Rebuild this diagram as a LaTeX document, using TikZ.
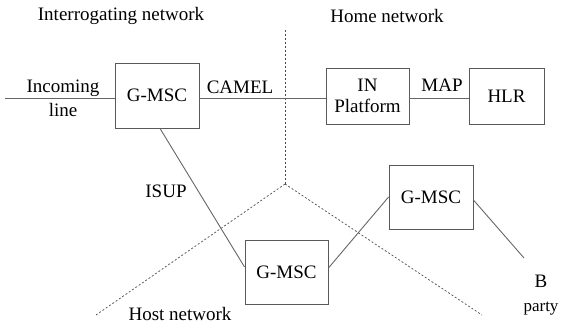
\documentclass[tikz,border=0pt]{standalone}
\usepackage{fontspec}
\setmainfont{Liberation Serif}
\begin{document}
\begin{tikzpicture}[x=1pt,y=-1pt,
  box/.style={draw=black!65,line width=0.9pt,minimum width=#1,inner sep=0pt,font=\fontsize{19}{21}\selectfont,align=center},
  lbl/.style={font=\fontsize{19}{24}\selectfont,inner sep=0pt,align=center},
  link/.style={draw=black!60,line width=0.9pt},
  border/.style={draw=black!70,line width=0.7pt,dash pattern=on 2pt off 2pt}]
\useasboundingbox (0,0) rectangle (561,325);
\node[box=84pt,minimum height=65pt] (g1) at (157,95.5) {G-MSC};
\node[box=83pt,minimum height=56pt] (inp) at (367.5,96) {IN\\Platform};
\node[box=75pt,minimum height=56pt] (hlr) at (506.5,96) {HLR};
\node[box=83pt,minimum height=64pt] (g2) at (286.5,272) {G-MSC};
\node[box=84pt,minimum height=64pt] (g3) at (431,197) {G-MSC};
\coordinate (in0) at (5,98);
\coordinate (top) at (285,30);
\coordinate (mid) at (285,184);
\coordinate (dl) at (96,315);
\coordinate (dr) at (482,315);
\coordinate (bp) at (524,258);
\node[lbl] (tI) at (121,16) {Interrogating network};
\node[lbl] (tH) at (387,16) {Home network};
\node[lbl] (tHo) at (180,314) {Host network};
\node[lbl] (inc) at (63,98) {Incoming\\line};
\node[lbl] (cam) at (240,87) {CAMEL};
\node[lbl] (map) at (442,85) {MAP};
\node[lbl] (isup) at (166,191) {ISUP};
\node[lbl,anchor=base] (bb) at (541,287) {B};
\node[lbl,anchor=base,font=\fontsize{17}{20}\selectfont] (party) at (541,311) {party};
\draw[border] (top) -- (mid);
\draw[border] (mid) -- (dl);
\draw[border] (mid) -- (dr);
\draw[link] (in0) -- (in0 -| g1.west);
\draw[link] (g1.east |- in0) -- (inp.west |- in0);
\draw[link] (inp.east |- in0) -- (hlr.west |- in0);
\draw[link] ([xshift=3pt]g1.south) -- ([yshift=5pt]g2.west);
\draw[link] ([yshift=4pt]g2.east) -- (g3.west);
\draw[link] ([yshift=-3pt]g3.east) -- (bp);
\end{tikzpicture}
\end{document}
